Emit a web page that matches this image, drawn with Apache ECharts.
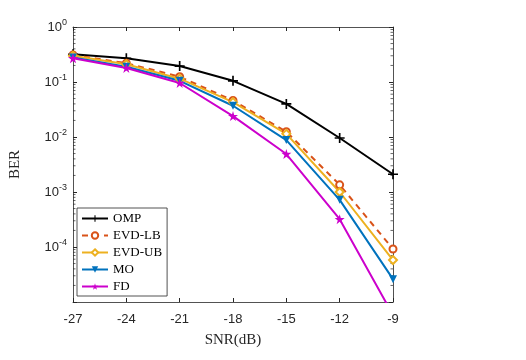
<!DOCTYPE html>
<html>
<head>
<meta charset="utf-8">
<script src="https://cdn.jsdelivr.net/npm/echarts@6/dist/echarts.min.js"></script>
<style>
html,body{margin:0;padding:0;background:#fff;}
#chart{width:526px;height:360px;}
</style>
</head>
<body>
<div id="chart"></div>
<script>
// SNR (dB)
const snr = [-27, -24, -21, -18, -15, -12, -9]
// BER values
const omp   = [0.32, 0.27, 0.195, 0.105, 0.04, 0.0096, 0.0021]
const evdLb = [0.31, 0.22, 0.125, 0.046, 0.0125, 0.00135, 0.000092]
const evdUb = [0.30, 0.21, 0.115, 0.043, 0.0114, 0.00100, 0.000058]
const mo    = [0.28, 0.19, 0.105, 0.037, 0.0088, 0.00072, 0.000026]
const fd    = [0.27, 0.18, 0.096, 0.024, 0.0049, 0.00032, 0.0000058]

// minor ticks 2..9 x 10^k
const minorVals = []
for (let k = -5; k < 0; k++) {
    for (let m = 2; m <= 9; m++) minorVals.push(m * Math.pow(10, k))
}

const axisColor = '#262626'
const serif = '"Liberation Serif","DejaVu Serif",serif'
const sans = '"Liberation Sans",Arial,sans-serif'

const plusPath = 'path://M5,0 H7 V5 H12 V7 H7 V12 H5 V7 H0 V5 H5 Z'
const starPath = 'path://M10,0 L12.25,6.91 L19.51,6.91 L13.63,11.18 L15.88,18.09 L10,13.82 L4.12,18.09 L6.37,11.18 L0.49,6.91 L7.75,6.91 Z'

function pairs(vals) {
    return snr.map((x, i) => [x, vals[i]])
}

let chart = echarts.init(document.getElementById('chart'))
chart.setOption({
    animation: false,
    grid: {left: 68, right: 133, top: 27, bottom: 58},
    legend: {
        orient: 'vertical',
        left: 77, top: 208,
        data: ['OMP', 'EVD-LB', 'EVD-UB', 'MO', 'FD'],
        backgroundColor: '#fff',
        borderColor: axisColor,
        borderWidth: 0.8,
        padding: [4, 5, 3, 4],
        itemGap: 4,
        itemWidth: 26,
        itemHeight: 8,
        textStyle: {fontFamily: serif, fontSize: 13, color: '#000'}
    },
    xAxis: [{
        type: 'value', min: -27, max: -9, interval: 3,
        name: 'SNR(dB)', nameLocation: 'middle', nameGap: 31,
        nameTextStyle: {fontFamily: serif, fontSize: 15, color: axisColor},
        axisLine: {lineStyle: {color: axisColor, width: 0.8}},
        axisTick: {inside: true, length: 4, lineStyle: {color: axisColor}},
        axisLabel: {fontFamily: sans, fontSize: 13, color: axisColor, margin: 11},
        splitLine: {show: false}
    }, {
        type: 'value', min: -27, max: -9, interval: 3, position: 'top',
        axisLine: {lineStyle: {color: axisColor, width: 0.8}},
        axisTick: {inside: true, length: 4, lineStyle: {color: axisColor}},
        axisLabel: {show: false},
        splitLine: {show: false}
    }],
    yAxis: [{
        type: 'log', min: 1e-5, max: 1, logBase: 10,
        name: 'BER', nameLocation: 'middle', nameGap: 50,
        nameTextStyle: {fontFamily: serif, fontSize: 15, color: axisColor},
        axisLine: {lineStyle: {color: axisColor, width: 0.8}},
        axisTick: {inside: true, length: 4, lineStyle: {color: axisColor}},
        axisLabel: {
            color: axisColor, margin: 6,
            formatter: function (v) {
                let e = Math.round(Math.log10(v))
                if (e === -5) return ''
                return '{b|10}{s|' + e + '}'
            },
            rich: {
                b: {fontFamily: sans, fontSize: 13, color: axisColor},
                s: {fontFamily: sans, fontSize: 9, color: axisColor, verticalAlign: 'top', padding: [0, 0, 8, 0]}
            }
        },
        splitLine: {show: false}
    }, {
        type: 'log', min: 1e-5, max: 1, logBase: 10, position: 'right',
        axisLine: {lineStyle: {color: axisColor, width: 0.8}},
        axisTick: {inside: true, length: 4, lineStyle: {color: axisColor}},
        axisLabel: {show: false},
        splitLine: {show: false}
    }],
    series: [
        {
            // minor ticks on left and right y axes
            type: 'custom', name: 'minor', silent: true, clip: false, z: 1,
            data: minorVals.map(v => [v]),
            renderItem: function (params, api) {
                let v = api.value(0)
                let l = api.coord([-27, v])
                let r = api.coord([-9, v])
                let st = {stroke: axisColor, lineWidth: 0.7}
                return {
                    type: 'group',
                    children: [
                        {type: 'line', shape: {x1: l[0], y1: l[1], x2: l[0] + 2.5, y2: l[1]}, style: st},
                        {type: 'line', shape: {x1: r[0] - 2.5, y1: r[1], x2: r[0], y2: r[1]}, style: st}
                    ]
                }
            }
        },
        {
            name: 'OMP', type: 'line', data: pairs(omp),
            symbol: plusPath, symbolSize: 10,
            lineStyle: {color: '#000', width: 2},
            itemStyle: {color: '#000'}
        },
        {
            name: 'EVD-LB', type: 'line', data: pairs(evdLb),
            symbol: 'emptyCircle', symbolSize: 7,
            lineStyle: {color: '#D95319', width: 2, type: [6, 5]},
            itemStyle: {color: '#D95319', borderWidth: 2}
        },
        {
            name: 'EVD-UB', type: 'line', data: pairs(evdUb),
            symbol: 'emptyDiamond', symbolSize: 8,
            lineStyle: {color: '#EDB120', width: 2},
            itemStyle: {color: '#EDB120', borderWidth: 2}
        },
        {
            name: 'MO', type: 'line', data: pairs(mo),
            symbol: 'triangle', symbolSize: 8, symbolRotate: 180,
            lineStyle: {color: '#0072BD', width: 2},
            itemStyle: {color: '#0072BD'}
        },
        {
            name: 'FD', type: 'line', data: pairs(fd),
            symbol: starPath, symbolSize: 10,
            lineStyle: {color: '#CC00CC', width: 2},
            itemStyle: {color: '#CC00CC'}
        }
    ]
})
</script>
</body>
</html>
